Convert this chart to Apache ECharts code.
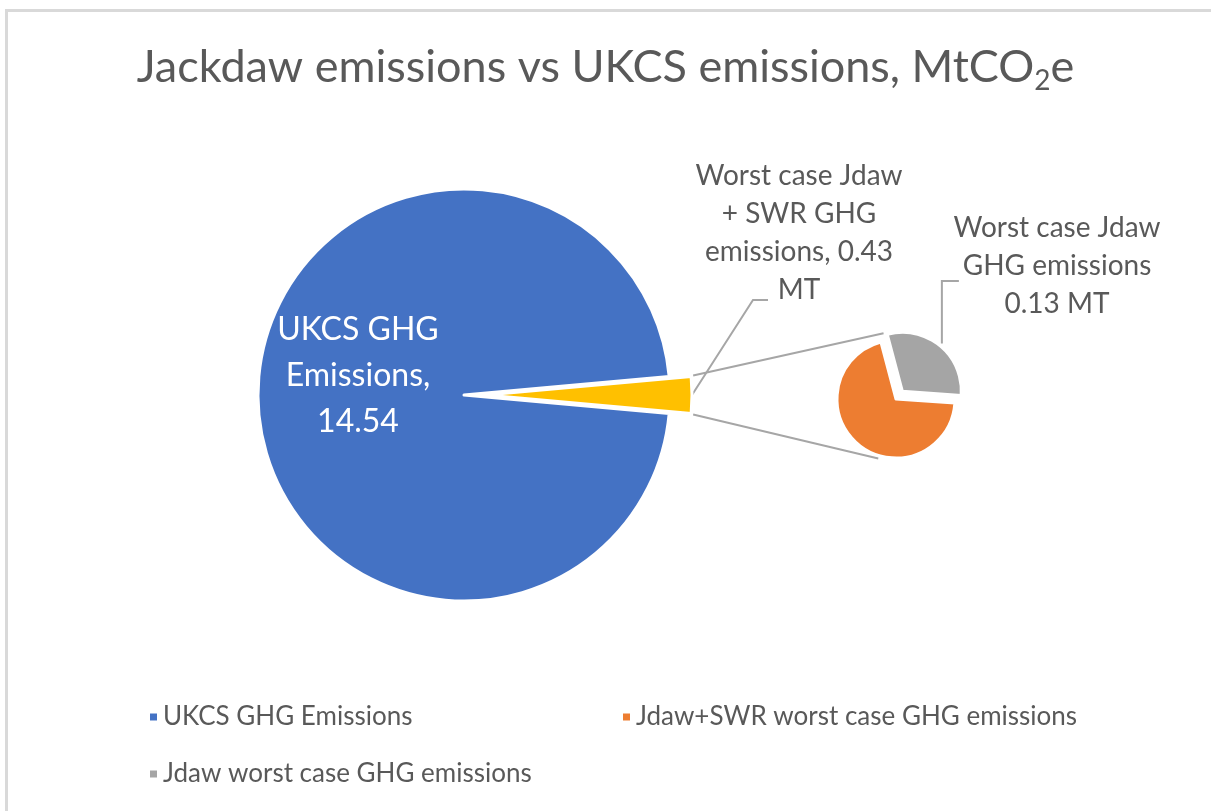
<!DOCTYPE html>
<html>
<head>
<meta charset="utf-8">
<script src="https://cdn.jsdelivr.net/npm/echarts@6/dist/echarts.min.js"></script>
<style>
    html, body { margin: 0; padding: 0; background: #fff; }
    emissions-pie { display: block; }
    .frame {
        position: absolute; left: 5px; top: 9px; right: 0; bottom: 0;
        border-top: 3px solid #d9d9d9; border-left: 3px solid #d9d9d9;
        pointer-events: none;
    }
</style>
</head>
<body>
<emissions-pie></emissions-pie>
<div class="frame"></div>
<script>
// main pie: UKCS vs the combined Jackdaw slice
const mainNames = ['UKCS GHG Emissions', 'Worst case Jdaw + SWR GHG emissions']
const mainValues = [14.54, 0.43]
// second pie splits the small slice
const subNames = ['Jdaw+SWR worst case GHG emissions', 'Jdaw worst case GHG emissions']
const subValues = [0.30, 0.13]
const legendNames = ['UKCS GHG Emissions', 'Jdaw+SWR worst case GHG emissions', 'Jdaw worst case GHG emissions']
const colors = ['#4472C4', '#FFC000', '#ED7D31', '#A5A5A5']

const textColor = '#595959'
const lineColor = '#A6A6A6'
const font = 'Lato'

class EmissionsPie extends HTMLElement {
    shell = null
    chart = null
    constructor() {
        super()
        this.shell = this.render()
        const style = this.css()
        this.setupShadow(this.shell, style)
        this.drawPie()
    }

    render() {
        const shell = document.createElement('div')
        shell.setAttribute('class', 'chart')
        return shell
    }

    setupChart(shell, option) {
        const chart = echarts.init(shell)
        chart.setOption(option)
        this.chart = chart
        return chart
    }

    hole(value, name) {
        return {
            value, name,
            itemStyle: { color: 'rgba(0,0,0,0)', borderWidth: 0 },
            label: { show: false },
            labelLine: { show: false }
        }
    }

    drawPie() {
        const rad = Math.PI / 180
        const mainSum = mainValues[0] + mainValues[1]
        const otherDeg = 360 * mainValues[1] / mainSum
        const mainStart = -otherDeg / 2
        const mainC = [464, 395]
        const mainR = 206
        const explode = 22
        const otherC = [mainC[0] + explode, mainC[1]]

        const subSum = subValues[0] + subValues[1]
        const subStart = -4
        const grayMid = subStart - 360 * subValues[0] / subSum - 180 * subValues[1] / subSum
        const subC = [896, 399]
        const subR = 59
        const subExplode = 10
        const grayC = [subC[0] + subExplode * Math.cos(grayMid * rad), subC[1] - subExplode * Math.sin(grayMid * rad)]

        // corners of the exploded slice and the points they join on the second pie
        const half = otherDeg / 2 * rad
        const upA = [otherC[0] + mainR * Math.cos(half) + 2, otherC[1] - mainR * Math.sin(half) - 1]
        const loA = [otherC[0] + mainR * Math.cos(half) + 2, otherC[1] + mainR * Math.sin(half) + 1]
        const upB = [subC[0] + 67 * Math.cos(100.7 * rad), subC[1] - 67 * Math.sin(100.7 * rad)]
        const loB = [subC[0] + 62 * Math.cos(-106.6 * rad), subC[1] - 62 * Math.sin(-106.6 * rad)]

        const grayStart = [grayC[0] + (subR + 3) * Math.cos(grayMid * rad), grayC[1] - (subR + 3) * Math.sin(grayMid * rad)]

        const option = {
            animation: false,
            title: {
                text: '{a|Jackdaw emissions vs UKCS emissions, MtCO}{s|2}{a|e}',
                left: 'center',
                top: 34,
                textStyle: {
                    fontWeight: 'normal',
                    rich: {
                        a: { fontSize: 45, lineHeight: 56, color: textColor, fontFamily: font, fontWeight: 'normal' },
                        s: { fontSize: 28, lineHeight: 28, color: textColor, fontFamily: font, fontWeight: 'normal', verticalAlign: 'bottom' }
                    }
                }
            },
            legend: legendNames.map((name, i) => ({
                data: [name],
                left: i === 1 ? 621 : 148,
                top: i === 2 ? 759 : 702,
                padding: 0,
                icon: 'rect',
                itemWidth: 9,
                itemHeight: 9,
                selectedMode: false,
                textStyle: { color: textColor, fontSize: 26, fontFamily: font, lineHeight: 30 }
            })),
            graphic: [
                { type: 'line', shape: { x1: upA[0], y1: upA[1], x2: upB[0], y2: upB[1] }, style: { stroke: lineColor, lineWidth: 2 } },
                { type: 'line', shape: { x1: loA[0], y1: loA[1], x2: loB[0], y2: loB[1] }, style: { stroke: lineColor, lineWidth: 2 } }
            ],
            series: [
                {
                    type: 'pie',
                    silent: true,
                    center: mainC,
                    radius: mainR,
                    startAngle: mainStart,
                    avoidLabelOverlap: false,
                    itemStyle: { borderColor: '#fff', borderWidth: 3 },
                    labelLayout: (p) => p.dataIndex === 0 ? { dy: -19 } : {},
                    data: [
                        {
                            value: mainValues[0], name: mainNames[0],
                            itemStyle: { color: colors[0] },
                            label: {
                                show: true, position: 'inner',
                                formatter: (p) => 'UKCS GHG\nEmissions,\n' + p.value.toFixed(2),
                                color: '#fff', fontSize: 32, lineHeight: 46, fontFamily: font
                            }
                        },
                        this.hole(mainValues[1], '_hole0')
                    ]
                },
                {
                    type: 'pie',
                    silent: true,
                    center: otherC,
                    radius: mainR,
                    startAngle: mainStart,
                    avoidLabelOverlap: false,
                    itemStyle: { borderColor: '#fff', borderWidth: 3 },
                    labelLayout: (p) => p.dataIndex === 1 ? {
                        x: 799, y: 233, align: 'center', verticalAlign: 'middle',
                        labelLinePoints: [[otherC[0] + mainR, otherC[1]], [753, 300], [768, 300]]
                    } : {},
                    data: [
                        this.hole(mainValues[0], '_hole1'),
                        {
                            value: mainValues[1], name: mainNames[1],
                            itemStyle: { color: colors[1] },
                            label: {
                                show: true, position: 'outside',
                                formatter: (p) => 'Worst case Jdaw\n+ SWR GHG\nemissions, ' + p.value.toFixed(2) + '\nMT',
                                color: textColor, fontSize: 28, lineHeight: 38, fontFamily: font, align: 'center'
                            },
                            labelLine: { show: true, lineStyle: { color: lineColor, width: 2 } }
                        }
                    ]
                },
                {
                    type: 'pie',
                    silent: true,
                    center: subC,
                    radius: subR,
                    startAngle: subStart,
                    itemStyle: { borderColor: '#fff', borderWidth: 3 },
                    label: { show: false },
                    labelLine: { show: false },
                    data: [
                        { value: subValues[0], name: subNames[0], itemStyle: { color: colors[2] } },
                        this.hole(subValues[1], '_hole2')
                    ]
                },
                {
                    type: 'pie',
                    silent: true,
                    center: grayC,
                    radius: subR,
                    startAngle: subStart,
                    avoidLabelOverlap: false,
                    itemStyle: { borderColor: '#fff', borderWidth: 3 },
                    labelLayout: (p) => p.dataIndex === 1 ? {
                        x: 1057, y: 266, align: 'center', verticalAlign: 'middle',
                        labelLinePoints: [grayStart, [grayStart[0], 281], [grayStart[0] + 17, 281]]
                    } : {},
                    data: [
                        this.hole(subValues[0], '_hole3'),
                        {
                            value: subValues[1], name: subNames[1],
                            itemStyle: { color: colors[3] },
                            label: {
                                show: true, position: 'outside',
                                formatter: (p) => 'Worst case Jdaw\nGHG emissions\n' + p.value.toFixed(2) + ' MT',
                                color: textColor, fontSize: 28, lineHeight: 38, fontFamily: font, align: 'center'
                            },
                            labelLine: { show: true, lineStyle: { color: lineColor, width: 2 } }
                        }
                    ]
                }
            ]
        }

        this.setupChart(this.shell, option)
    }

    setupShadow(shell, style) {
        const shadow = this.attachShadow({ mode: 'open' })
        shadow.appendChild(style)
        shadow.appendChild(shell)
    }

    css() {
        const style = document.createElement('style')
        style.textContent = `
            .chart{
                width:1211px;
                height:811px;
            }
        `
        return style
    }
}

customElements.define('emissions-pie', EmissionsPie)
</script>
</body>
</html>
